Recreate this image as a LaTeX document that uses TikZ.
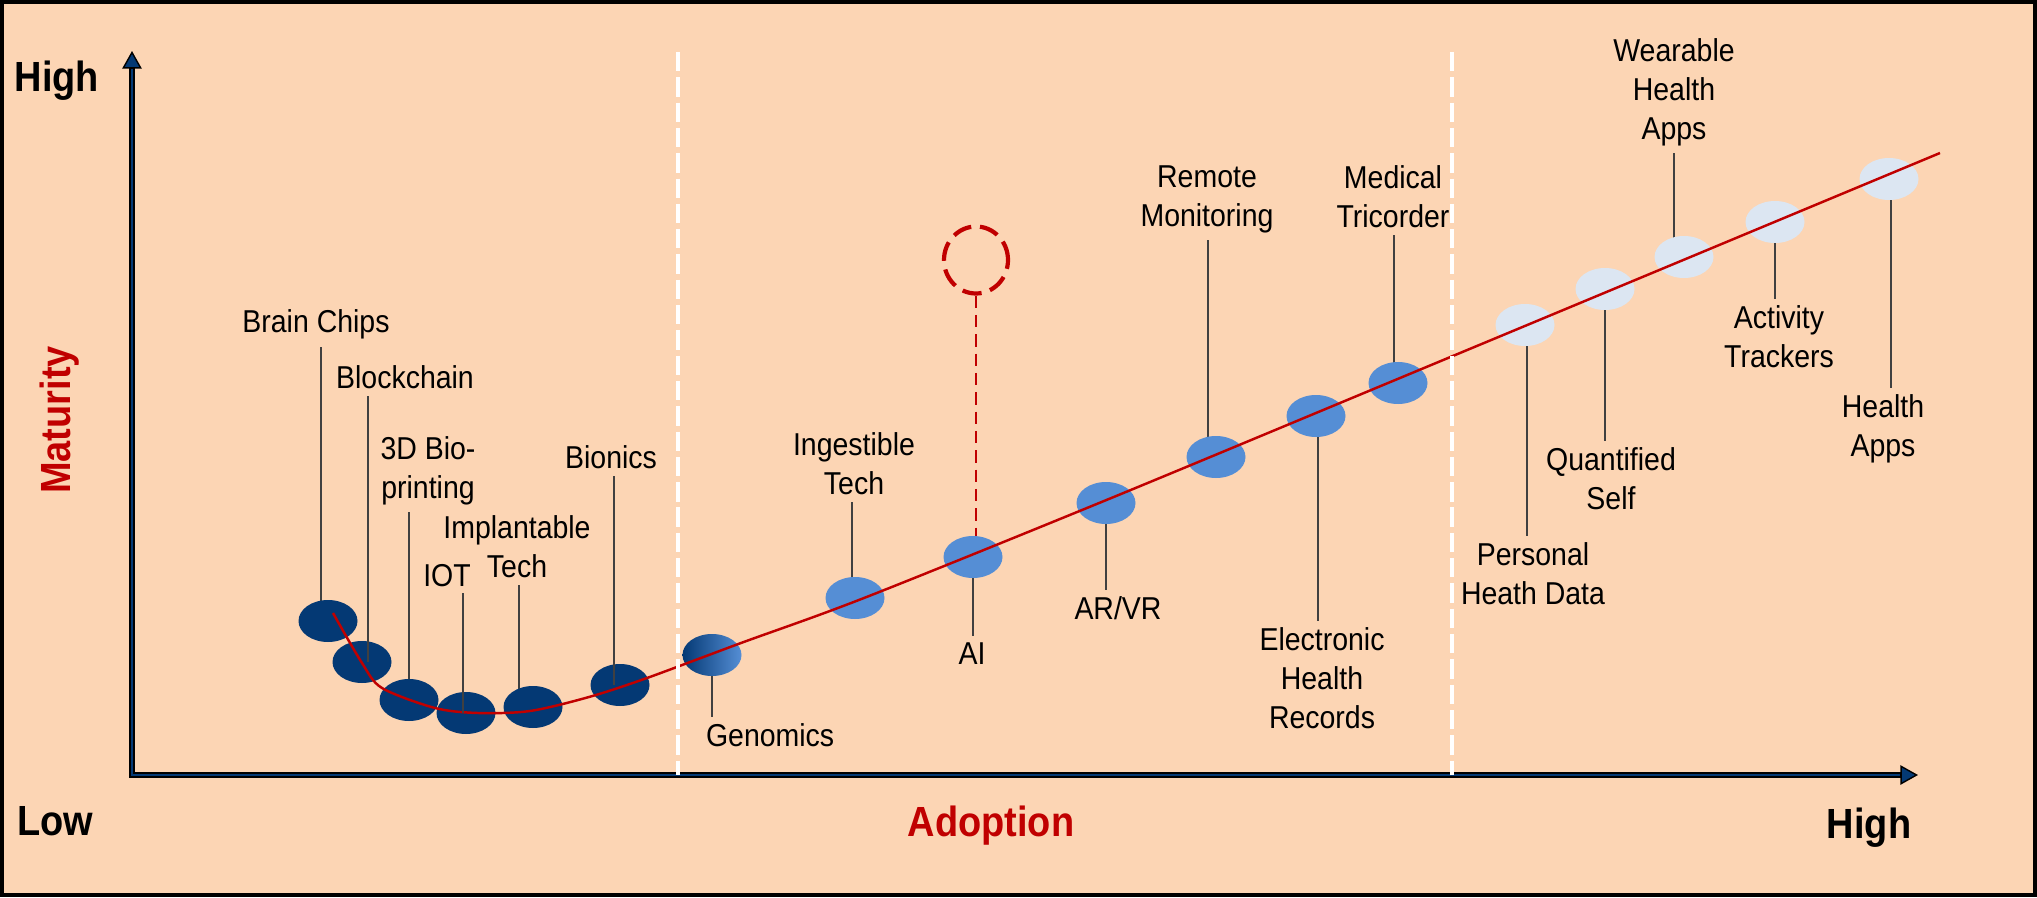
\documentclass[tikz,border=0pt]{standalone}
\usepackage{fontspec}
\setmainfont{Liberation Sans}[FakeStretch=0.9]
\usetikzlibrary{arrows.meta,shapes.geometric,backgrounds}
\definecolor{peach}{HTML}{FCD5B4}
\definecolor{navy}{RGB}{4,57,116}
\definecolor{midblue}{HTML}{558ED5}
\definecolor{paleblue}{HTML}{DCE6F2}
\definecolor{darkred}{HTML}{C00000}
\definecolor{leadgray}{HTML}{404040}
\tikzset{
  bubble/.style={ellipse, minimum width=0.59cm, minimum height=0.42cm, inner sep=0pt},
  darkbub/.style={bubble, fill=navy},
  midbub/.style={bubble, fill=midblue},
  lightbub/.style={bubble, fill=paleblue},
  lbl/.style={align=center, inner sep=1pt, outer sep=1pt, font=\fontsize{9}{11}\selectfont},
  leader/.style={leadgray, line width=0.8pt},
  axislbl/.style={inner sep=0pt, font=\bfseries\fontsize{12}{14}\selectfont},
  axisline/.style={line width=1.5pt, {Triangle[length=5pt,width=5.5pt,fill=navy,line width=0.4pt]}-{Triangle[length=5pt,width=5.5pt,fill=navy,line width=0.4pt]}},
  zone/.style={white, line width=0.9pt, dash pattern=on 5.5pt off 1.7pt},
  trend/.style={darkred, line width=0.7pt},
  aidash/.style={darkred, line width=0.5pt, dash pattern=on 3.5pt off 2pt},
}
\begin{document}
\begin{tikzpicture}
\useasboundingbox (0,0) rectangle (20.37,8.97);
\begin{pgfonlayer}{background}
\draw[line width=0.04cm, fill=peach] (0.02,0.02) rectangle (20.35,8.95);
\end{pgfonlayer}

% axes
\coordinate (o) at (1.32,1.22);
\coordinate (ytip) at (1.32,8.46);
\coordinate (xtip) at (19.18,1.22);
\draw[axisline] (ytip) -- (o) -- (xtip);
\draw[navy, line width=0.6pt] ([yshift=-5pt]ytip) -- (o) -- ([xshift=-5pt]xtip);

\node[axislbl] (yhigh) at (0.57,8.16) {High};
\node[axislbl] (ylow) at (0.55,0.76) {Low};
\node[axislbl] (xhigh) at (18.69,0.69) {High};
\node[axislbl, text=darkred] (xlbl) at (9.91,0.71) {Adoption};
\node[axislbl, text=darkred, rotate=90] (ylbl) at (0.60,4.77) {Maturity};

% bubbles
\node[darkbub] (bc) at (3.28,2.76) {};
\node[darkbub] (bl) at (3.62,2.35) {};
\node[darkbub] (bp) at (4.09,1.97) {};
\node[darkbub] (iot) at (4.66,1.84) {};
\node[darkbub] (imp) at (5.33,1.90) {};
\node[darkbub] (bio) at (6.20,2.12) {};
\node[bubble, left color=navy, right color=midblue] (gen) at (7.12,2.42) {};
\node[midbub] (ing) at (8.55,2.99) {};
\node[midbub] (ai) at (9.73,3.40) {};
\node[midbub] (arvr) at (11.06,3.94) {};
\node[midbub] (rm) at (12.16,4.40) {};
\node[midbub] (ehr) at (13.16,4.81) {};
\node[midbub] (mt) at (13.98,5.14) {};
\node[lightbub] (phd) at (15.25,5.72) {};
\node[lightbub] (qs) at (16.05,6.08) {};
\node[lightbub] (wha) at (16.84,6.40) {};
\node[lightbub] (act) at (17.75,6.75) {};
\node[lightbub] (ha) at (18.89,7.18) {};
\node[ellipse, draw=darkred, line width=1.2pt, dash pattern=on 5.5pt off 2.5pt,
  minimum width=0.64cm, minimum height=0.67cm, inner sep=0pt] (aiq) at (9.76,6.37) {};

% labels
\node[lbl, anchor=north] (bcl) at (3.16,5.94) {Brain Chips};
\node[lbl, anchor=north] (bll) at (4.05,5.38) {Blockchain};
\node[lbl, anchor=north] (bpl) at (4.28,4.67) {3D Bio-\\printing};
\node[lbl, anchor=north] (iotl) at (4.47,3.40) {IOT};
\node[lbl, anchor=north] (impl) at (5.17,3.88) {Implantable\\Tech};
\node[lbl, anchor=north] (biol) at (6.11,4.58) {Bionics};
\node[lbl, anchor=north west] (genl) at (6.99,1.80) {Genomics};
\node[lbl, anchor=north] (ingl) at (8.54,4.71) {Ingestible\\Tech};
\node[lbl, anchor=north] (ail) at (9.72,2.61) {AI};
\node[lbl, anchor=north] (arvrl) at (11.18,3.07) {AR/VR};
\node[lbl, anchor=north] (rml) at (12.07,7.38) {Remote\\Monitoring};
\node[lbl, anchor=north] (ehrl) at (13.22,2.76) {Electronic\\Health\\Records};
\node[lbl, anchor=north] (mtl) at (13.93,7.38) {Medical\\Tricorder};
\node[lbl, anchor=north] (phdl) at (15.33,3.61) {Personal\\Heath Data};
\node[lbl, anchor=north] (qsl) at (16.11,4.56) {Quantified\\Self};
\node[lbl, anchor=north] (whal) at (16.74,8.65) {Wearable\\Health\\Apps};
\node[lbl, anchor=north] (actl) at (17.79,5.98) {Activity\\Trackers};
\node[lbl, anchor=north] (hal) at (18.83,5.09) {Health\\Apps};

% leaders behind the bubbles
\begin{pgfonlayer}{background}
\foreach \b/\l/\s in {bc/bcl/-0.07cm, bp/bpl/0cm, imp/impl/-0.14cm, ing/ingl/-0.03cm, rm/rml/-0.08cm, mt/mtl/-0.04cm, wha/whal/-0.1cm}
  \draw[leader] ([xshift=\s]\b.center) -- ([xshift=\s]\b.center |- \l.south);
\foreach \b/\l/\s in {gen/genl/0cm, ai/ail/0cm, arvr/arvrl/0cm, ehr/ehrl/0.02cm, phd/phdl/0.02cm, qs/qsl/0cm, act/actl/0cm, ha/hal/0.02cm}
  \draw[leader] ([xshift=\s]\b.center) -- ([xshift=\s]\b.center |- \l.north);
\draw[aidash] (aiq.south) -- (aiq.south |- ai.center);
\end{pgfonlayer}

% trend
\draw[trend] plot[smooth, tension=0.5] coordinates {(3.33,2.84) (3.62,2.34) (3.82,2.09) (4.35,1.89) (4.78,1.84) (5.30,1.86) (5.89,2.00) (6.47,2.19) (7.41,2.54) (8.64,2.99) (11.04,3.96) (14.00,5.19) (19.40,7.44)};

% leaders over the bubbles
\foreach \b/\l/\s in {bl/bll/0.06cm, iot/iotl/-0.03cm, bio/biol/-0.06cm}
  \draw[leader] ([xshift=\s]\b.center) -- ([xshift=\s]\b.center |- \l.south);

% zones
\coordinate (z1) at (6.78,8.45);
\coordinate (z2) at (14.52,8.45);
\draw[zone] (z1) -- (z1 |- o);
\draw[zone] (z2) -- (z2 |- o);
\end{tikzpicture}
\end{document}
